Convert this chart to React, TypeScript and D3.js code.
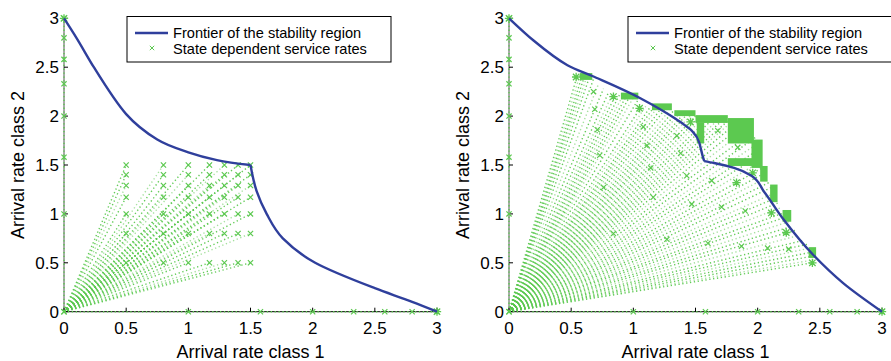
import React from "react";
import * as d3 from "d3";

// ---------- data ----------
const TICKS = [0, 0.5, 1, 1.5, 2, 2.5, 3];
const TICK_LABELS = ["0", "0.5", "1", "1.5", "2", "2.5", "3"];
const X_LABEL = "Arrival rate class 1";
const Y_LABEL = "Arrival rate class 2";
const LEGEND_LINE = "Frontier of the stability region";
const LEGEND_MARK = "State dependent service rates";

// markers lying on both axes (same values on each axis)
const AXIS_MARKS = [0, 1.0, 1.58, 2.0, 2.33, 2.58, 2.8, 3.0];

// left panel: service-rate grid levels (both coordinates)
const LEFT_LEVELS = [0.5, 0.8, 1.0, 1.17, 1.29, 1.4, 1.5];
const LEFT_FRONTIER_A: [number, number][] = [
  [0, 3], [0.1, 2.8], [0.24, 2.5], [0.5, 2.02], [0.75, 1.76], [1.0, 1.63], [1.23, 1.55], [1.5, 1.5],
];
const LEFT_FRONTIER_B: [number, number][] = [
  [1.5, 1.5], [1.55, 1.23], [1.63, 1.0], [1.76, 0.75], [2.02, 0.5], [2.5, 0.24], [2.8, 0.1], [3, 0],
];

// right panel
const RIGHT_FRONTIER_A: [number, number][] = [
  [0, 3], [0.2, 2.77], [0.47, 2.52], [0.67, 2.41], [1.06, 2.18], [1.33, 1.98], [1.41, 1.91], [1.47, 1.85], [1.53, 1.73], [1.56, 1.58], [1.57, 1.54],
];
const RIGHT_FRONTIER_B: [number, number][] = [
  [1.57, 1.54], [1.65, 1.52], [1.81, 1.47], [1.95, 1.39], [2.05, 1.23], [2.21, 0.94], [2.44, 0.59], [2.69, 0.29], [3.0, 0],
];
const RIGHT_RAY_ENDS: [number, number][] = [
  [0.55, 2.42], [0.57, 2.42], [0.59, 2.42], [0.61, 2.42], [0.63, 2.42], [0.65, 2.41], [0.68, 2.38], [0.72, 2.33],
  [0.76, 2.28], [0.8, 2.24], [0.83, 2.22], [0.86, 2.22], [0.89, 2.22], [0.92, 2.22], [0.95, 2.22], [0.98, 2.22],
  [1.01, 2.21], [1.04, 2.17], [1.07, 2.11], [1.1, 2.1], [1.14, 2.1], [1.17, 2.1], [1.2, 2.1], [1.23, 2.09],
  [1.26, 2.08], [1.29, 2.06], [1.32, 2.05], [1.35, 2.04], [1.38, 2.04], [1.41, 2.03], [1.44, 2.03], [1.47, 2.02],
  [1.5, 2.0], [1.53, 1.99], [1.56, 1.98], [1.6, 1.97], [1.64, 1.97], [1.68, 1.96], [1.72, 1.96], [1.76, 1.95],
  [1.8, 1.95], [1.85, 1.95], [1.9, 1.93], [1.94, 1.9], [1.96, 1.84], [1.98, 1.78], [2.0, 1.72], [2.01, 1.66],
  [2.02, 1.6], [2.03, 1.54], [2.05, 1.48], [2.06, 1.42], [2.07, 1.37], [2.09, 1.32], [2.11, 1.27], [2.13, 1.21],
  [2.14, 1.16], [2.16, 1.11], [2.18, 1.06], [2.21, 1.01], [2.23, 0.97], [2.25, 0.92], [2.27, 0.87], [2.3, 0.83],
  [2.33, 0.78], [2.37, 0.73], [2.4, 0.69], [2.42, 0.65], [2.44, 0.61], [2.45, 0.57], [2.45, 0.53], [2.44, 0.5],
];
// dense clusters of overlapping markers: [x0, x1, y0, y1]
const RIGHT_CLUSTERS: [number, number, number, number][] = [
  [0.57, 0.67, 2.37, 2.44], [0.9, 1.04, 2.17, 2.24], [1.15, 1.31, 2.06, 2.13], [1.33, 1.5, 2.0, 2.06],
  [1.5, 1.76, 1.93, 2.01], [1.51, 1.57, 1.72, 1.93], [1.76, 1.97, 1.72, 1.98], [1.76, 1.99, 1.49, 1.57],
  [1.95, 2.04, 1.47, 1.76], [2.02, 2.08, 1.33, 1.49], [2.1, 2.16, 1.12, 1.3], [2.2, 2.27, 0.92, 1.04],
  [2.41, 2.47, 0.55, 0.66],
];
const RIGHT_STARS: [number, number][] = [
  [0.54, 2.4], [0.84, 2.2], [1.05, 2.08], [1.46, 1.94], [1.96, 1.42], [1.83, 1.32], [2.11, 1.01], [2.23, 0.81], [2.44, 0.5],
];
const RIGHT_CROSSES: [number, number][] = [
  [0.68, 2.25], [0.69, 2.07], [0.71, 1.86], [0.73, 1.6], [0.76, 1.27], [0.84, 0.8], [1.08, 1.89], [1.11, 1.7],
  [1.14, 1.47], [1.35, 1.8], [1.38, 1.62], [1.43, 1.39], [1.16, 1.17], [1.27, 0.74], [1.47, 1.1], [1.71, 1.07],
  [1.9, 1.03], [1.6, 0.7], [1.87, 0.67], [2.08, 0.65], [2.25, 0.64], [1.68, 1.85], [1.84, 1.68], [1.63, 1.34],
];

// ---------- style ----------
const GREEN = "#5cc950";
const BLUE = "#2f3f9c";
const FONT = "'Liberation Sans', Arial, Helvetica, sans-serif";

const W = 891;
const H = 361;

function Cross({ x, y, s = 2.6, w = 1.2 }: { x: number; y: number; s?: number; w?: number }) {
  return (
    <path d={`M${x - s},${y - s}L${x + s},${y + s}M${x - s},${y + s}L${x + s},${y - s}`} stroke={GREEN} strokeWidth={w} fill="none" />
  );
}
function Star({ x, y }: { x: number; y: number }) {
  const s = 3.2;
  return (
    <g stroke={GREEN} strokeWidth={1.3}>
      <path d={`M${x - s},${y - s}L${x + s},${y + s}M${x - s},${y + s}L${x + s},${y - s}M${x - s * 1.3},${y}L${x + s * 1.3},${y}M${x},${y - s * 1.3}L${x},${y + s * 1.3}`} />
    </g>
  );
}

interface PanelProps {
  x0: number;
  rays: [number, number][];
  frontA: [number, number][];
  frontB: [number, number][];
  crosses: [number, number][];
  stars: [number, number][];
  clusters: [number, number, number, number][];
  legendX: number;
}

function Panel({ x0, rays, frontA, frontB, crosses, stars, clusters, legendX }: PanelProps) {
  const xs = d3.scaleLinear().domain([0, 3]).range([x0, x0 + 373]);
  const ys = d3.scaleLinear().domain([0, 3]).range([311.7, 18.3]);
  const lineX = d3
    .line<[number, number]>()
    .x((d) => xs(d[0]))
    .y((d) => ys(d[1]))
    .curve(d3.curveMonotoneX);
  const lineY = d3
    .line<[number, number]>()
    .x((d) => xs(d[0]))
    .y((d) => ys(d[1]))
    .curve(d3.curveMonotoneY);
  const ox = xs(0);
  const oy = ys(0);
  // lower branch: x is a monotone function of y; order by screen y increasing
  const frontBSorted = [...frontB].sort((a, b) => ys(a[1]) - ys(b[1]));
  return (
    <g>
      {/* axes lines */}
      <line x1={ox} y1={oy} x2={xs(3)} y2={oy} stroke="#000" strokeWidth={1} />
      <line x1={ox} y1={oy} x2={ox} y2={ys(3)} stroke="#555" strokeWidth={1} />
      {/* ticks */}
      {TICKS.map((t, i) => (
        <g key={"t" + i}>
          <line x1={xs(t)} x2={xs(t)} y1={oy} y2={oy - 4} stroke="#000" strokeWidth={1} />
          <line x1={ox} x2={ox + 4} y1={ys(t)} y2={ys(t)} stroke="#000" strokeWidth={1} />
          <text x={xs(t)} y={334} textAnchor="middle" fontSize={17} fontFamily={FONT} fill="#000">
            {TICK_LABELS[i]}
          </text>
          <text x={ox - 5} y={ys(t) + 6} textAnchor="end" fontSize={17} fontFamily={FONT} fill="#000">
            {TICK_LABELS[i]}
          </text>
        </g>
      ))}
      {/* dotted rays */}
      <g fill="none" stroke={GREEN} strokeWidth={1.4} strokeDasharray="1.3 2.6">
        {rays.map((d, i) => (
          <line key={"r" + i} x1={ox} y1={oy} x2={xs(d[0])} y2={ys(d[1])} strokeOpacity={i % 3 === 1 ? 0.55 : 0.95} />
        ))}
        <line x1={ox} y1={oy} x2={xs(3)} y2={oy} />
        <line x1={ox} y1={oy} x2={ox} y2={ys(3)} />
      </g>
      {/* clusters */}
      {clusters.map((c, i) => (
        <rect key={"c" + i} x={xs(c[0])} y={ys(c[3])} width={xs(c[1]) - xs(c[0])} height={ys(c[2]) - ys(c[3])} fill={GREEN} />
      ))}
      {/* markers */}
      {crosses.map((d, i) => (
        <Cross key={"x" + i} x={xs(d[0])} y={ys(d[1])} />
      ))}
      {stars.map((d, i) => (
        <Star key={"s" + i} x={xs(d[0])} y={ys(d[1])} />
      ))}
      {AXIS_MARKS.map((v, i) => (
        <g key={"a" + i}>
          <Cross x={xs(v)} y={oy} />
          <Cross x={ox} y={ys(v)} />
        </g>
      ))}
      <Star x={ox} y={ys(3)} />
      <Star x={xs(3)} y={oy} />
      {/* frontier */}
      <path d={lineX(frontA) || ""} fill="none" stroke={BLUE} strokeWidth={2.4} />
      <path d={lineY(frontBSorted) || ""} fill="none" stroke={BLUE} strokeWidth={2.4} />
      {/* axis labels */}
      <text x={xs(1.5)} y={358} textAnchor="middle" fontSize={18} fontFamily={FONT} fill="#000">
        {X_LABEL}
      </text>
      <text transform={`translate(${x0 - 40},${ys(1.5)}) rotate(-90)`} textAnchor="middle" fontSize={18} fontFamily={FONT} fill="#000">
        {Y_LABEL}
      </text>
      {/* legend */}
      <g>
        <rect x={legendX} y={16.5} width={264} height={45.5} fill="#fff" stroke="#000" strokeWidth={1} />
        <line x1={legendX + 8} x2={legendX + 41} y1={33} y2={33} stroke={BLUE} strokeWidth={2.4} />
        <Cross x={legendX + 25} y={48} s={2.2} w={1} />
        <text x={legendX + 46} y={37.8} fontSize={14.6} fontFamily={FONT} fill="#000">
          {LEGEND_LINE}
        </text>
        <text x={legendX + 46} y={53.5} fontSize={14.6} fontFamily={FONT} fill="#000">
          {LEGEND_MARK}
        </text>
      </g>
    </g>
  );
}

export default function App() {
  const leftRays: [number, number][] = [];
  LEFT_LEVELS.forEach((a) => LEFT_LEVELS.forEach((b) => leftRays.push([a, b])));
  return (
    <svg width={W} height={H} style={{ position: "absolute", left: 0, top: 0, background: "#fff" }}>
      <rect x={0} y={0} width={W} height={H} fill="#fff" />
      <Panel x0={64} rays={leftRays} frontA={LEFT_FRONTIER_A} frontB={LEFT_FRONTIER_B} crosses={leftRays} stars={[]} clusters={[]} legendX={127} />
      <Panel
        x0={509}
        rays={RIGHT_RAY_ENDS}
        frontA={RIGHT_FRONTIER_A}
        frontB={RIGHT_FRONTIER_B}
        crosses={RIGHT_CROSSES}
        stars={RIGHT_STARS}
        clusters={RIGHT_CLUSTERS}
        legendX={628}
      />
    </svg>
  );
}
